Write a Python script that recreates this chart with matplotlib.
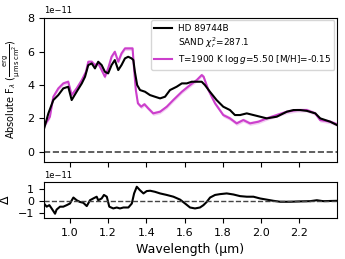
import numpy as np
import matplotlib
matplotlib.use("Agg")
import matplotlib.pyplot as plt

# Observed spectrum HD 89744B (units 1e-11)
obs_wl = [0.86, 0.887, 0.913, 0.939, 0.965, 0.991, 1.009, 1.035, 1.062, 1.079, 1.096, 1.114,
          1.131, 1.148, 1.166, 1.183, 1.20, 1.218, 1.235, 1.253, 1.27, 1.288, 1.305, 1.323,
          1.332, 1.34, 1.352, 1.367, 1.393, 1.419, 1.445, 1.472, 1.498, 1.524, 1.559, 1.586,
          1.612, 1.638, 1.664, 1.69, 1.707, 1.733, 1.768, 1.803, 1.838, 1.864, 1.891, 1.926,
          1.961, 1.996, 2.031, 2.083, 2.136, 2.171, 2.206, 2.241, 2.285, 2.311, 2.363, 2.398]
obs_fl = [1.2, 2.3, 3.1, 3.4, 3.8, 3.9, 3.1, 3.6, 4.1, 4.5, 5.2, 5.3,
          5.0, 5.4, 5.2, 4.8, 4.7, 5.2, 5.5, 4.9, 5.2, 5.6, 5.7, 5.6,
          5.5, 4.8, 4.0, 3.7, 3.6, 3.4, 3.3, 3.2, 3.3, 3.7, 3.9, 4.1,
          4.1, 4.2, 4.2, 4.2, 4.0, 3.6, 3.1, 2.7, 2.5, 2.2, 2.2, 2.3,
          2.2, 2.1, 2.0, 2.1, 2.4, 2.5, 2.5, 2.45, 2.3, 2.0, 1.8, 1.6]

# SAND model spectrum (units 1e-11)
mod_wl = [0.86, 0.895, 0.913, 0.939, 0.965, 0.991, 1.009, 1.035, 1.062, 1.084, 1.096, 1.114,
          1.131, 1.148, 1.166, 1.183, 1.20, 1.218, 1.235, 1.253, 1.27, 1.288, 1.314, 1.328,
          1.335, 1.345, 1.356, 1.373, 1.39, 1.41, 1.436, 1.472, 1.507, 1.541, 1.586, 1.629,
          1.664, 1.69, 1.70, 1.725, 1.76, 1.803, 1.838, 1.873, 1.908, 1.943, 1.987, 2.031,
          2.083, 2.136, 2.19, 2.24, 2.285, 2.31, 2.363, 2.398]
mod_fl = [1.46, 2.1, 3.3, 3.8, 4.1, 4.2, 3.4, 3.8, 4.3, 4.8, 5.4, 5.4,
          5.2, 5.3, 4.9, 4.5, 5.0, 5.7, 6.0, 5.4, 5.9, 6.2, 6.2, 6.2,
          5.1, 3.7, 2.9, 2.7, 2.85, 2.6, 2.3, 2.4, 2.7, 3.1, 3.6, 4.0,
          4.3, 4.6, 4.5, 3.7, 2.9, 2.2, 2.0, 1.7, 1.9, 1.7, 1.8, 2.0,
          2.2, 2.4, 2.5, 2.5, 2.3, 1.9, 1.8, 1.65]
mod_err = 0.12

# Residual (data - model), units 1e-11
res_wl = [0.864, 0.878, 0.892, 0.904, 0.922, 0.93, 0.948, 0.965, 0.983, 1.0, 1.018, 1.035,
          1.053, 1.07, 1.088, 1.105, 1.122, 1.14, 1.148, 1.166, 1.178, 1.193, 1.206, 1.227,
          1.245, 1.262, 1.28, 1.306, 1.324, 1.336, 1.35, 1.367, 1.385, 1.402, 1.42, 1.445,
          1.472, 1.507, 1.542, 1.577, 1.603, 1.629, 1.655, 1.681, 1.699, 1.716, 1.734, 1.76,
          1.786, 1.821, 1.856, 1.891, 1.926, 1.961, 1.996, 2.031, 2.066, 2.101, 2.154, 2.206,
          2.258, 2.293, 2.326, 2.398]
res_fl = [-0.23, -0.5, -0.37, -0.65, -1.1, -0.75, -0.5, -0.5, -0.37, -0.23, 0.28, 0.05,
          -0.1, -0.17, -0.45, 0.05, 0.2, 0.35, 0.05, 0.2, 0.5, 0.35, -0.5, -0.65,
          -0.57, -0.65, -0.57, -0.57, -0.23, 0.63, 1.2, 0.9, 0.63, 0.83, 0.86, 0.77,
          0.63, 0.5, 0.35, 0.1, -0.23, -0.57, -0.65, -0.57, -0.37, -0.1, 0.28, 0.5,
          0.57, 0.63, 0.54, 0.4, 0.35, 0.35, 0.2, 0.1, 0.0, -0.08, -0.08, -0.05,
          -0.03, 0.05, -0.03, 0.0]

scale = 1e-11
obs_wl = np.array(obs_wl); obs_fl = np.array(obs_fl) * scale
mod_wl = np.array(mod_wl); mod_fl = np.array(mod_fl) * scale
res_wl = np.array(res_wl); res_fl = np.array(res_fl) * scale

magenta = '#cc3fcc'

fig = plt.figure(figsize=(3.45, 2.59), dpi=100)
ax1 = fig.add_axes([0.1275, 0.3745, 0.8495, 0.5575])
ax2 = fig.add_axes([0.1275, 0.159, 0.8495, 0.139], sharex=ax1)

ax1.plot(obs_wl, obs_fl, color='black', lw=1.5, label='HD 89744B', zorder=3)
ax1.plot([], [], ' ', label=r'SAND $\chi^2_r$=287.1')
ax1.fill_between(mod_wl, mod_fl - mod_err * scale, mod_fl + mod_err * scale,
                 color=magenta, alpha=0.25, lw=0, zorder=2)
ax1.plot(mod_wl, mod_fl, color=magenta, lw=1.5,
         label=r'T=1900 K log$\,g$=5.50 [M/H]=-0.15', zorder=2)
ax1.axhline(0, color='#444444', ls='--', lw=1.2)
ax1.set_ylim(-0.62e-11, 8.05e-11)
ax1.set_xlim(0.864, 2.399)
ax1.set_yticks([0, 2e-11, 4e-11, 6e-11, 8e-11])
ax1.tick_params(labelbottom=False, labelsize=8)
ax1.yaxis.get_offset_text().set_fontsize(6)
ax1.set_ylabel(r'Absolute F$_\lambda$ ($\frac{\rm erg}{\rm \mu m\, s\, cm^2}$)', fontsize=7)
leg = ax1.legend(loc='upper right', fontsize=6.4, handlelength=2.0, borderaxespad=0.3,
                 labelspacing=0.3, handletextpad=0.6)

ax2.plot(res_wl, res_fl, color='black', lw=1.5)
ax2.axhline(0, color='#444444', ls='--', lw=1.0)
ax2.set_ylim(-1.45e-11, 1.62e-11)
ax2.set_yticks([-1e-11, 0, 1e-11])
ax2.set_xticks([1.0, 1.2, 1.4, 1.6, 1.8, 2.0, 2.2])
ax2.tick_params(labelsize=8)
ax2.yaxis.get_offset_text().set_fontsize(6)
ax2.set_ylabel(r'$\Delta$', fontsize=9)
ax2.set_xlabel('Wavelength (μm)', fontsize=9)

fig.savefig('out.png', dpi=100)
